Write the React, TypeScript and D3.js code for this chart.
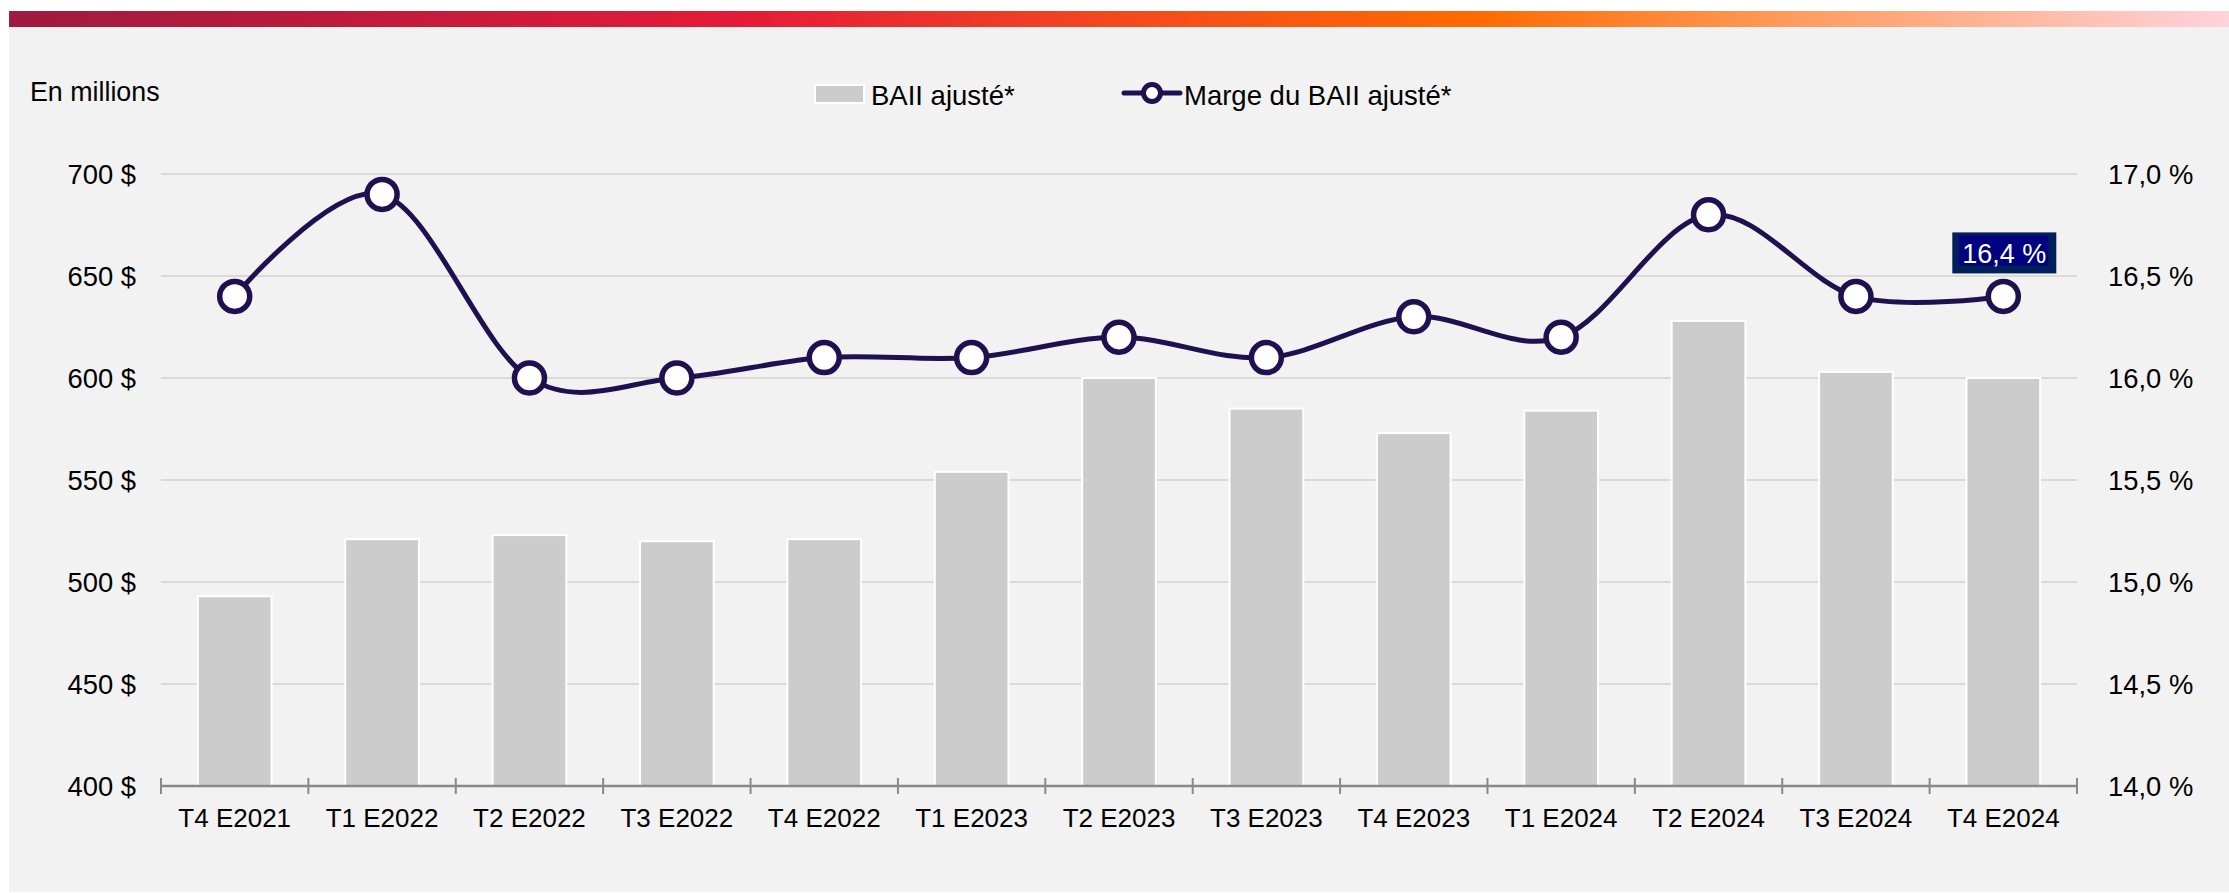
import React from "react";
import * as d3 from "d3";

const categories = [
  "T4 E2021", "T1 E2022", "T2 E2022", "T3 E2022", "T4 E2022",
  "T1 E2023", "T2 E2023", "T3 E2023", "T4 E2023",
  "T1 E2024", "T2 E2024", "T3 E2024", "T4 E2024",
];
const baiiValues = [493, 521, 523, 520, 521, 554, 600, 585, 573, 584, 628, 603, 600];
const margeValues = [16.4, 16.9, 16.0, 16.0, 16.1, 16.1, 16.2, 16.1, 16.3, 16.2, 16.8, 16.4, 16.4];
const leftTicks = [400, 450, 500, 550, 600, 650, 700];
const rightTicks = [14.0, 14.5, 15.0, 15.5, 16.0, 16.5, 17.0];
const seriesNames = ["BAII ajusté*", "Marge du BAII ajusté*"];
const unitLabel = "En millions";

const W = 2229;
const H = 893;
const FONT = "'Liberation Sans', Arial, sans-serif";
const LINE_COLOR = "#21104f";
const X_LEFT = 161;
const X_RIGHT = 2077;

const fmtPct = (v: number) => d3.format(".1f")(v).replace(".", ",") + " %";
const fmtDollar = (v: number) => d3.format("d")(v) + " $";

export default function App() {
  const x = d3
    .scaleBand<string>()
    .domain(categories)
    .range([X_LEFT, X_RIGHT])
    .paddingInner(0.5)
    .paddingOuter(0.25);
  const step = x.step();
  const yL = d3.scaleLinear().domain([400, 700]).range([786, 174]);
  const yR = d3.scaleLinear().domain([14, 17]).range([786, 174]);

  const pts: [number, number][] = margeValues.map((v, i) => [
    (x(categories[i]) as number) + x.bandwidth() / 2,
    yR(v),
  ]);
  const line = d3.line().curve(d3.curveCardinal.tension(0));
  const pathD = line(pts) || "";

  const last = pts[pts.length - 1];
  const lastLabel = fmtPct(margeValues[margeValues.length - 1]);

  return (
    <div style={{ position: "absolute", left: 0, top: 0 }}>
      <svg width={W} height={H} style={{ display: "block", fontFamily: FONT }}>
        <defs>
          <linearGradient id="topbar" x1="0" x2="1" y1="0" y2="0">
            <stop offset="0" stopColor="#9e1b3f" />
            <stop offset="0.33" stopColor="#e41b38" />
            <stop offset="0.5" stopColor="#f24a1e" />
            <stop offset="0.66" stopColor="#ff6a00" />
            <stop offset="0.8" stopColor="#ff9a5c" />
            <stop offset="1" stopColor="#ffd3dc" />
          </linearGradient>
        </defs>
        <rect x={0} y={0} width={W} height={H} fill="#ffffff" />
        <rect x={9} y={26} width={W - 9} height={866} fill="#f2f2f2" />
        <rect x={9} y={11} width={W - 9} height={16} fill="url(#topbar)" />

        {/* unit label */}
        <text x={30} y={101} fontSize={26.8} fill="#000">{unitLabel}</text>

        {/* legend */}
        <rect x={815} y={85} width={49} height={18} fill="#cccccc" stroke="#ffffff" strokeWidth={2} />
        <text x={871} y={105} fontSize={27.5} fill="#000">{seriesNames[0]}</text>
        <line x1={1124} x2={1180} y1={93} y2={93} stroke={LINE_COLOR} strokeWidth={5} strokeLinecap="round" />
        <circle cx={1152} cy={93} r={8.5} fill="#fff" stroke={LINE_COLOR} strokeWidth={5} />
        <text x={1184} y={105} fontSize={27.5} fill="#000">{seriesNames[1]}</text>

        {/* gridlines */}
        {leftTicks.filter((t) => t !== 400).map((t) => (
          <line key={"g" + t} x1={X_LEFT} x2={X_RIGHT} y1={yL(t)} y2={yL(t)} stroke="#d9d9d9" strokeWidth={2} />
        ))}

        {/* left tick labels */}
        {leftTicks.map((t) => (
          <text key={"l" + t} x={136} y={yL(t)} dy="0.36em" textAnchor="end" fontSize={27.4} fill="#000">
            {fmtDollar(t)}
          </text>
        ))}
        {/* right tick labels */}
        {rightTicks.map((t) => (
          <text key={"r" + t} x={2108} y={yR(t)} dy="0.36em" textAnchor="start" fontSize={27.4} fill="#000">
            {fmtPct(t)}
          </text>
        ))}

        {/* bars */}
        {baiiValues.map((v, i) => (
          <rect
            key={"b" + i}
            x={x(categories[i]) as number}
            y={yL(v)}
            width={x.bandwidth()}
            height={yL(400) - yL(v)}
            fill="#cccccc"
            stroke="#ffffff"
            strokeWidth={2}
          />
        ))}

        {/* x axis */}
        <line x1={X_LEFT} x2={X_RIGHT} y1={786} y2={786} stroke="#898989" strokeWidth={2.5} />
        {d3.range(categories.length + 1).map((i) => (
          <line key={"t" + i} x1={X_LEFT + i * step} x2={X_LEFT + i * step} y1={778} y2={794} stroke="#898989" strokeWidth={2} />
        ))}
        {categories.map((c) => (
          <text key={"c" + c} x={(x(c) as number) + x.bandwidth() / 2} y={827} textAnchor="middle" fontSize={26} fill="#000">
            {c}
          </text>
        ))}

        {/* line */}
        <path d={pathD} fill="none" stroke={LINE_COLOR} strokeWidth={5} />
        {pts.map((p, i) => (
          <circle key={"p" + i} cx={p[0]} cy={p[1]} r={15} fill="#ffffff" stroke={LINE_COLOR} strokeWidth={5.5} />
        ))}

        {/* data label */}
        <rect x={last[0] - 51} y={last[1] - 64} width={104} height={41} fill="#001f5b" />
        <rect x={last[0] - 44} y={last[1] - 61} width={89} height={30} fill="#000080" />
        <text x={last[0] + 1} y={last[1] - 33} textAnchor="middle" fontSize={27} fill="#ffffff">
          {lastLabel}
        </text>
      </svg>
    </div>
  );
}
